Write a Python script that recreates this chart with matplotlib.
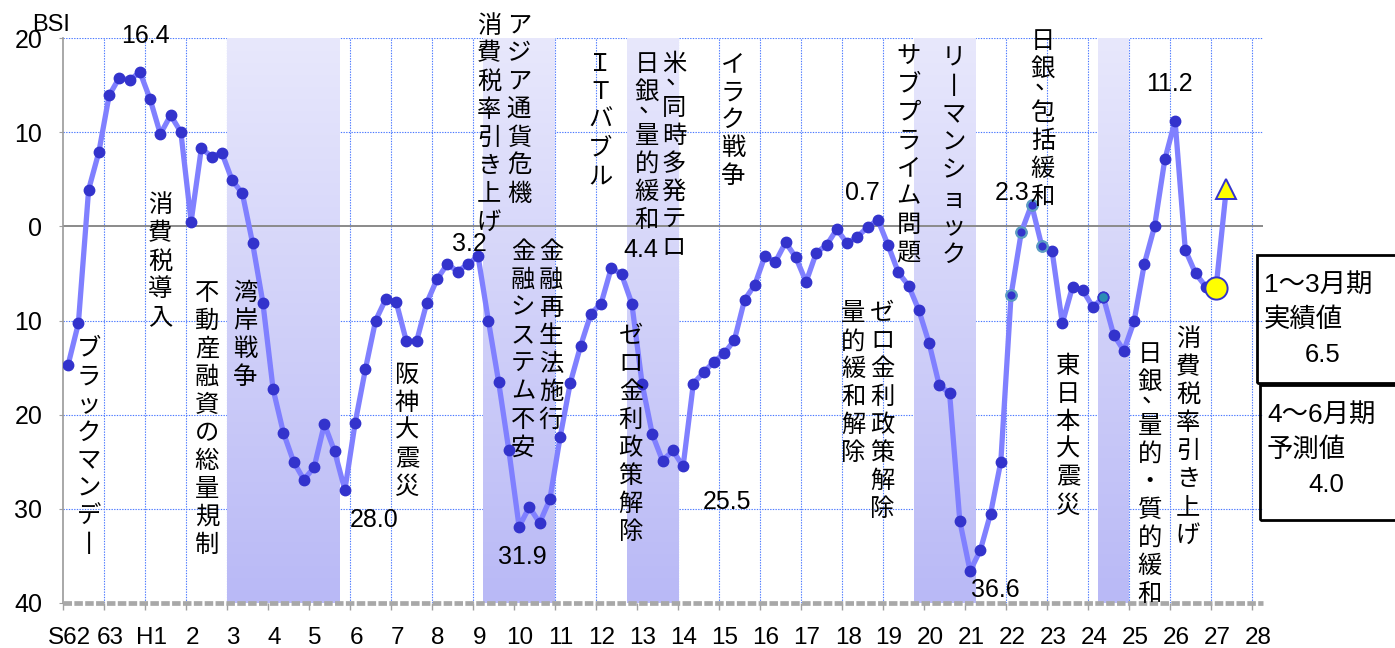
"""BSI (business survey index) quarterly chart, S62 - H27, with recession bands and event notes."""

import numpy as np
import matplotlib
matplotlib.use("Agg")
import matplotlib.pyplot as plt
from matplotlib.colors import LinearSegmentedColormap
from matplotlib.patches import Rectangle

# ---- data -------------------------------------------------------------
YEAR_LABELS = ["S62", "63", "H1"] + [str(i) for i in range(2, 29)]

# quarterly BSI, S62 Q1 .. H26 Q4
BSI = [
    -14.7, -10.3, 3.9, 7.9, 13.9, 15.8, 15.5, 16.4, 13.5, 9.8, 11.8, 10.0,
    0.5, 8.3, 7.4, 7.8, 4.9, 3.5, -1.8, -8.1, -17.3, -21.9, -25.0, -26.9,
    -25.6, -21.0, -23.9, -28.0, -20.9, -15.2, -10.0, -7.7, -8.0, -12.2, -12.2, -8.1,
    -5.6, -4.0, -4.8, -4.0, -3.2, -10.0, -16.5, -23.8, -31.9, -29.8, -31.5, -29.0,
    -22.4, -16.6, -12.7, -9.3, -8.2, -4.4, -5.1, -8.2, -16.7, -22.1, -24.9, -23.8,
    -25.5, -16.7, -15.5, -14.4, -13.5, -12.1, -7.8, -6.2, -3.1, -3.8, -1.7, -3.3,
    -5.9, -2.8, -2.0, -0.3, -1.8, -1.1, -0.1, 0.7, -2.0, -4.9, -6.3, -8.9,
    -12.4, -16.9, -17.7, -31.3, -36.6, -34.4, -30.5, -25.0, -7.3, -0.6, 2.3, -2.1,
    -2.6, -10.3, -6.4, -6.8, -8.6, -7.5, -11.5, -13.2, -10.1, -4.0, 0.0, 7.1,
    11.2, -2.5, -5.0, -6.4,
]
ACTUAL = -6.5     # H27 1-3
FORECAST = 4.0    # H27 4-6
EDGE_MARKED = [92, 93, 94, 95]
FILL_MARKED = [101]

# shaded periods, in years from S62
BANDS = [(4.0, 6.75), (10.25, 12.0), (13.75, 15.0), (20.75, 22.25), (25.25, 26.0)]

PEAKS = [
    ("16.4", 2.02, 20.2), ("28.0", 7.59, -31.2), ("3.2", 9.9, -1.9),
    ("31.9", 11.2, -35.1), ("4.4", 14.1, -2.5), ("25.5", 16.2, -29.3),
    ("0.7", 19.51, 3.5), ("36.6", 22.75, -38.6), ("2.3", 23.15, 3.5),
    ("11.2", 27.0, 15.1),
]

EVENTS = [
    ("ブラックマンデ丨", 0.63, -11.6),
    ("消費税導入", 2.37, 3.6),
    ("不動産融資の総量規制", 3.51, -5.7),
    ("湾岸戦争", 4.44, -5.7),
    ("阪神大震災", 8.39, -14.4),
    ("消費税率引き上げ", 10.39, 22.7),
    ("アジア通貨危機", 11.12, 22.7),
    ("金融システム不安", 11.22, -1.3),
    ("金融再生法施行", 11.9, -1.3),
    ("ＩＴバブル", 13.1, 18.6),
    ("日銀、量的緩和", 14.24, 18.6),
    ("米、同時多発テロ", 14.9, 18.6),
    ("ゼロ金利政策解除", 13.85, -10.3),
    ("イラク戦争", 16.34, 18.6),
    ("量的緩和解除", 19.27, -7.85),
    ("ゼロ金利政策解除", 19.98, -7.85),
    ("サブプライム問題", 20.63, 19.4),
    ("リ丨マンショック", 21.73, 19.2),
    ("日銀、包括緩和", 23.9, 21.1),
    ("東日本大震災", 24.51, -13.4),
    ("日銀、量的・質的緩和", 26.51, -12.2),
    ("消費税率引き上げ", 27.44, -10.6),
]

# ---- style ------------------------------------------------------------
W, H = 1395, 648
JP = ["Noto Sans CJK JP", "DejaVu Sans"]
NUM = ["Liberation Sans", "Noto Sans CJK JP", "DejaVu Sans"]
LINE = "#8080ff"
DOT = "#3333cc"
GRID = "#4a78ff"


def px(x, y):
    return x / W, 1 - y / H


def main():
    fig = plt.figure(figsize=(W / 100, H / 100), dpi=100)
    fig.patch.set_facecolor("white")
    ax = fig.add_axes([63 / W, 1 - 603 / H, 1200 / W, 565 / H])

    n = len(BSI)
    xq = np.arange(n + 2) / 4 + 0.125
    vals = BSI + [ACTUAL, FORECAST]

    # grid
    for v in (-30, -20, -10, 10, 20):
        ax.axhline(v, color=GRID, lw=0.8, ls=(0, (1.2, 1.2)), zorder=0)
    for i in range(1, 30):
        ax.axvline(i, color=GRID, lw=0.8, ls=(0, (1.2, 1.2)), zorder=0)

    # shaded periods with vertical gradient
    cmap = LinearSegmentedColormap.from_list("band", ["#e8e8fc", "#b9b9f6"])
    grad = np.linspace(0, 1, 256).reshape(-1, 1)
    for a, b in BANDS:
        ax.imshow(grad, extent=(a, b, -40, 20), origin="upper", cmap=cmap,
                  aspect="auto", zorder=1, interpolation="bicubic")

    ax.axhline(0, color="#8a8a8a", lw=1.4, zorder=2)

    ax.plot(xq, vals, color=LINE, lw=3.8, zorder=3, solid_joinstyle="round")
    ax.plot(xq[:n], BSI, "o", ms=7.5, mfc=DOT, mec=DOT, zorder=4)
    ax.plot(xq[EDGE_MARKED], [BSI[i] for i in EDGE_MARKED], "o", ms=7.5,
            mfc=DOT, mec="#5d9fc2", mew=1.6, zorder=4)
    ax.plot(xq[FILL_MARKED], [BSI[i] for i in FILL_MARKED], "o", ms=7.5,
            mfc="#2a8cb4", mec=DOT, mew=1.2, zorder=4)
    ax.plot(xq[n], ACTUAL, "o", ms=16, mfc="#ffff00", mec=DOT, mew=1.4, zorder=5)
    ax.plot(xq[n + 1], FORECAST, "^", ms=15, mfc="#ffff00", mec=DOT, mew=1.4, zorder=5)

    ax.set_xlim(0, 29.27)
    ax.set_ylim(-40, 20)

    # axes
    for s in ("top", "right", "bottom"):
        ax.spines[s].set_visible(False)
    ax.spines["left"].set_color("#9a9a9a")
    ax.spines["left"].set_linewidth(1.2)
    ax.axhline(-40, color="#a8a8a8", lw=3.4, ls=(0, (1.8, 0.5)), zorder=6,
               clip_on=False)

    ax.set_xticks(range(30))
    ax.set_xticklabels([])
    ax.set_xticks(np.arange(30) + 0.15, minor=True)
    ax.set_xticklabels(YEAR_LABELS, minor=True, fontsize=17.5, family=NUM)
    ax.tick_params(axis="x", which="major", length=5, color="#a0a0a0", width=1)
    ax.tick_params(axis="x", which="minor", length=0, pad=17)

    ax.set_yticks(range(-40, 21, 10))
    ax.set_yticklabels([str(abs(v)) for v in range(-40, 21, 10)], fontsize=18,
                       family=NUM)
    ax.tick_params(axis="y", length=3, color="#a0a0a0", pad=12)

    ax.text(-0.29, 21.4, "BSI", fontsize=17, family=NUM, ha="center",
            va="center", clip_on=False)

    # value labels
    for t, x, y in PEAKS:
        ax.text(x, y, t, fontsize=18, family=NUM, ha="center", va="center",
                zorder=7)

    # vertical event notes, one character per cell;
    # the comma hangs beside the previous character
    pitch = 28 * 60 / 565
    for s, x, y in EVENTS:
        yy = y
        for ch in s:
            if ch == "、":
                ax.text(x + 0.1, yy + 0.55 * pitch, ch, fontsize=17.5, family=JP,
                        ha="center", va="top", zorder=7, clip_on=False)
                yy -= 0.57 * pitch
                continue
            ax.text(x, yy, ch, fontsize=17.5, family=JP, ha="center", va="top",
                    zorder=7, clip_on=False)
            yy -= pitch

    # boxes on the right
    for (y0, y1, x0), lines in zip(
        [(255, 383, 1257), (385, 520, 1260)],
        [["1～3月期", "実績値", "6.5"], ["4～6月期", "予測値", "4.0"]],
    ):
        fig.add_artist(Rectangle(px(x0, y1), (W + 10 - x0) / W, (y1 - y0) / H,
                                 transform=fig.transFigure, fill=False,
                                 ec="black", lw=2, clip_on=False))
        fig.text(*px(x0 + 7, y0 + 30), lines[0], fontsize=19, family=NUM,
                 va="center", ha="left")
        fig.text(*px(x0 + 7, y0 + 65), lines[1], fontsize=19, family=NUM,
                 va="center", ha="left")
        fig.text(*px(x0 + 66, y0 + 100), lines[2], fontsize=18.5, family=NUM,
                 va="center", ha="center")

    fig.savefig("out.png", dpi=100)


if __name__ == "__main__":
    main()
